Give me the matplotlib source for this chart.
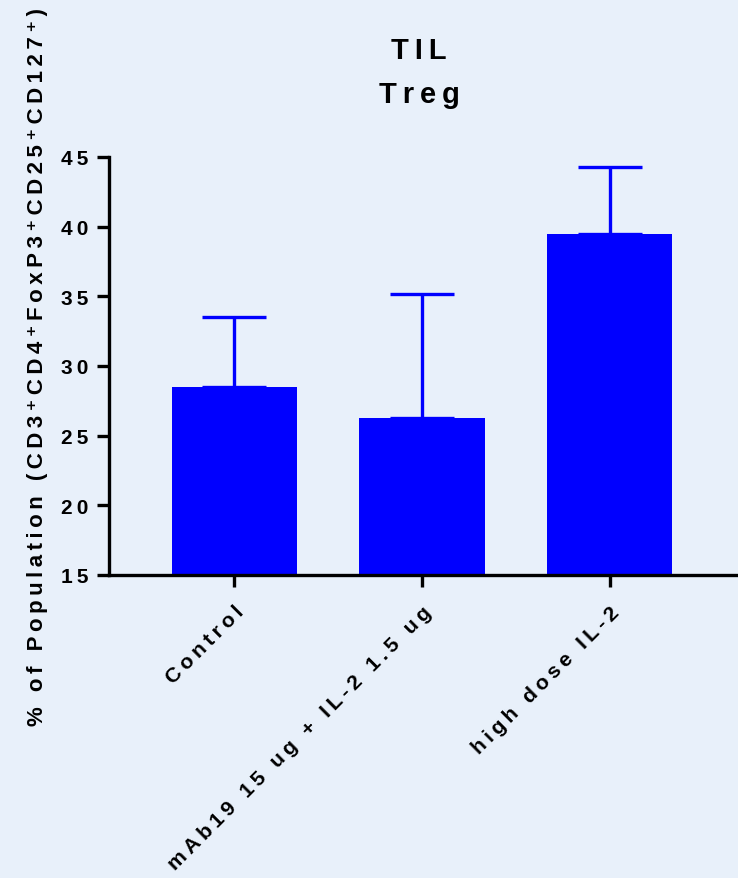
import matplotlib
matplotlib.use("Agg")
import matplotlib.pyplot as plt

groups = ["Control", "mAb19 15 ug + IL-2 1.5 ug", "high dose IL-2"]
means = [28.5, 26.3, 39.5]
errs = [5.0, 8.9, 4.8]
yticks = [15, 20, 25, 30, 35, 40, 45]

bg = "#E8F0FA"
blue = "#0000FF"
fonts = ["Liberation Sans", "DejaVu Sans"]
plt.rcParams["font.family"] = fonts
plt.rcParams["font.weight"] = "bold"


def sp(s):
    # wide letter spacing like the original
    return "\u2009".join(s)


W, H = 738, 879
fig = plt.figure(figsize=(W / 100, H / 100), dpi=100, facecolor=bg)
ax = fig.add_axes([109 / W, 1 - 576 / H, (W - 109) / W, (576 - 158) / H])
ax.set_facecolor(bg)

x = list(range(len(groups)))
ax.bar(x, means, width=0.667, color=blue, zorder=2)
ax.errorbar(x, means, yerr=[[0] * len(errs), errs], fmt="none", ecolor=blue,
            elinewidth=2.4, capsize=23, capthick=2.4, zorder=1)

ax.set_xlim(-0.669, 2.685)
ax.set_ylim(15, 45)
ax.set_yticks(yticks)
ax.set_yticklabels([sp(str(t)) for t in yticks], fontsize=15, fontweight="bold")
ax.set_xticks(x)
ax.set_xticklabels([sp(g) for g in groups], fontsize=15.3, fontweight="bold",
                   rotation=45, ha="right", va="top", rotation_mode="anchor")

for s in ["top", "right"]:
    ax.spines[s].set_visible(False)
for s in ["left", "bottom"]:
    ax.spines[s].set_linewidth(2.4)
ax.tick_params(width=2.4, length=8.5, pad=6)
ax.tick_params(axis="x", pad=11)

ax.set_ylabel(sp("% of Population (CD3⁺CD4⁺FoxP3⁺CD25⁺CD127⁺)"), fontsize=16,
              fontweight="bold", ha="center", va="center")
ax.yaxis.set_label_coords((38 - 109) / (W - 109), 0.5)

fig.text(419 / W, 1 - 59 / H, sp("TIL"), fontsize=21, fontweight="bold",
         ha="center", va="baseline")
fig.text(419 / W, 1 - 103 / H, sp("Treg"), fontsize=21, fontweight="bold",
         ha="center", va="baseline")

fig.savefig("out.png", dpi=100, facecolor=bg)
